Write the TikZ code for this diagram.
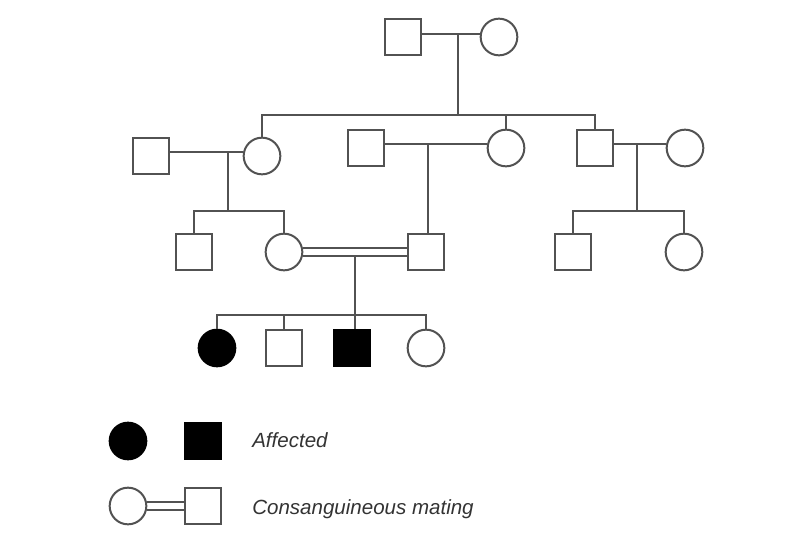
\documentclass[tikz,border=0pt]{standalone}
\usepackage{fontspec}
\setmainfont{Liberation Sans}
\begin{document}
\begin{tikzpicture}[x=0.75pt,y=-0.75pt,
  ln/.style={draw=black!68, line width=1.5pt},
  male/.style={ln, rectangle, minimum size=27pt, inner sep=0pt, fill=white},
  female/.style={ln, circle, minimum size=27.5pt, inner sep=0pt, fill=white},
  aff/.style={fill=black, draw=black},
  lbl/.style={anchor=base west, inner sep=0pt, text=black!80, font=\fontsize{15.4}{18}\selectfont\itshape}]
\useasboundingbox (0,0) rectangle (804,543);

% Generation I
\node[male] (m1) at (403,37) {};
\node[female] (f1) at (499,37) {};
% Generation II
\node[male] (m2) at (151,156) {};
\node[female] (f2) at (262,156) {};
\node[male] (m3) at (366,148) {};
\node[female] (f3) at (506,148) {};
\node[male] (m4) at (595,148) {};
\node[female] (f4) at (685,148) {};
% Generation III
\node[male] (m5) at (194,252) {};
\node[female] (f5) at (284,252) {};
\node[male] (m6) at (426,252) {};
\node[male] (m7) at (573,252) {};
\node[female] (f7) at (684,252) {};
% Generation IV
\node[female,aff] (a1) at (217,348) {};
\node[male] (m8) at (284,348) {};
\node[male,aff] (a2) at (352,348) {};
\node[female] (f8) at (426,348) {};
% Legend
\node[female,aff] (la) at (128,441) {};
\node[male,aff] (lb) at (203,441) {};
\node[lbl] (t1) at (252,447) {Affected};
\node[female] (lc) at (128,506) {};
\node[male] (ld) at (203,506) {};
\node[lbl] (t2) at (252,514) {Consanguineous mating};

% junction coordinates
\coordinate (c1) at (458,34);
\coordinate (s1) at (458,115);
\coordinate (c2) at (228,152);
\coordinate (s2) at (228,211);
\coordinate (c3) at (428,144);
\coordinate (c4) at (637,144);
\coordinate (s4) at (637,211);
\coordinate (c5) at (355,256);
\coordinate (s5) at (355,315);

% Generation I family
\draw[ln] (m1.east |- c1) -- (f1.west |- c1);
\draw[ln] (c1) -- (s1);
\draw[ln] (f2.north) -- (f2.north |- s1) -- (m4.north |- s1) -- (m4.north);
\draw[ln] (f3.north |- s1) -- (f3.north);

% Generation II marriages
\draw[ln] (m2.east |- c2) -- (f2.west |- c2);
\draw[ln] (c2) -- (s2);
\draw[ln] (m5.north) -- (m5.north |- s2) -- (f5.north |- s2) -- (f5.north);

\draw[ln] (m3.east |- c3) -- (f3.west |- c3);
\draw[ln] (c3) -- (c3 |- m6.north);

\draw[ln] (m4.east |- c4) -- (f4.west |- c4);
\draw[ln] (c4) -- (s4);
\draw[ln] (m7.north) -- (m7.north |- s4) -- (f7.north |- s4) -- (f7.north);

% Consanguineous mating
\draw[ln] (f5.12) -- (f5.12 -| m6.west);
\draw[ln] (f5.-12) -- (f5.-12 -| m6.west);
\draw[ln] (c5) -- (c5 |- a2.north);
\draw[ln] (a1.north) -- (a1.north |- s5) -- (f8.north |- s5) -- (f8.north);
\draw[ln] (m8.north |- s5) -- (m8.north);

% Legend double line
\draw[ln] (lc.11) -- (lc.11 -| ld.west);
\draw[ln] (lc.-11) -- (lc.-11 -| ld.west);
\end{tikzpicture}
\end{document}
